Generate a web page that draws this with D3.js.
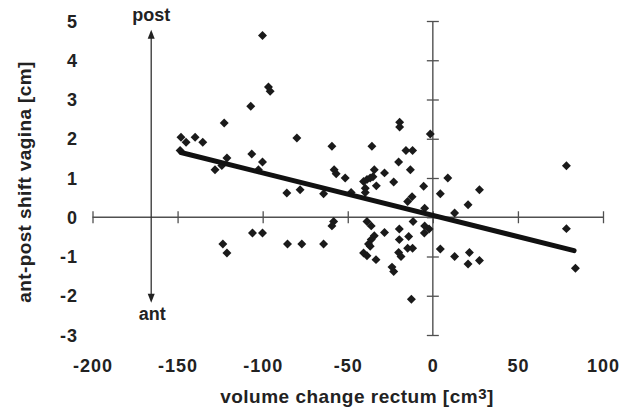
<!DOCTYPE html>
<html>
<head>
<meta charset="utf-8">
<script src="https://cdn.jsdelivr.net/npm/d3@7"></script>
<style>
  body { margin: 0; background: #fff; }
  text { font-family: "Liberation Sans", Arial, sans-serif; font-weight: bold; fill: #222; }
</style>
</head>
<body>
<svg width="632" height="409"></svg>
<script>
// volume change of rectum (cm3) vs ant-post shift of vagina (cm)
const volChange = [
  -100.1, -107, -122.6, -148, -145, -139.7, -135.2, -106.4, -121, -128,
  -148.5, -124, -100.1, -102.5, -85.8, -79.9, -78, -106, -100.1, -123.4,
  -121, -96.6, -95.6, -59.3, -35.8, -19.5, -19.5, -1.5, -58, -56.8,
  -51.5, -34.4, -28.4, -20.1, -15.8, -11.9, -13.2, 8.8, 78.5, -40.7,
  -38.7, -36.8, -35.2, -39.7, -39.7, -33.2, -23, -5.4, 4.4, -48,
  -64.2, -14.8, -12.2, -4.8, 12.8, -58.3, -59.3, -38.7, -36.2, -11.6,
  -19.7, -4.8, -2.2, -14.2, -19.7, -28.4, -5, -34.4, -36.2, -37.8,
  -36.8, -77, -64.2, -85.4, -40.7, -38.7, -20.1, -18.7, -14.8, -11.9,
  4.4, 12.8, -33.4, -24, -23, -12.6, 27.4, 20.7, 21.5, 20.7,
  27.4, 78.5, 83.8
];
const shift = [
  4.63, 2.83, 2.40, 2.04, 1.91, 2.04, 1.91, 1.61, 1.51, 1.21,
  1.70, 1.32, 1.41, 1.21, 0.62, 2.02, 0.70, -0.40, -0.40, -0.68,
  -0.91, 3.32, 3.21, 1.81, 1.81, 2.42, 2.30, 2.12, 1.21, 1.11,
  1.00, 1.21, 1.13, 1.41, 1.70, 1.70, 1.21, 1.00, 1.31, 0.91,
  0.96, 1.00, 1.03, 0.74, 0.63, 0.80, 0.90, 0.79, 0.60, 0.63,
  0.60, 0.40, 0.52, 0.23, 0.11, -0.11, -0.22, -0.11, -0.22, -0.11,
  -0.30, -0.22, -0.30, -0.49, -0.57, -0.39, -0.40, -0.47, -0.57, -0.68,
  -0.74, -0.68, -0.68, -0.68, -0.91, -0.98, -0.90, -1.00, -0.79, -0.79,
  -0.81, -1.00, -1.08, -1.27, -1.38, -2.09, 0.70, 0.32, -0.90, -1.19,
  -1.10, -0.29, -1.30
];

// regression line end points
const fitX = [-148, 83];
const fitY = [1.65, -0.85];

const xTicks = [-200, -150, -100, -50, 0, 50, 100];
const yTicks = [-3, -2, -1, 0, 1, 2, 3, 4, 5];

const svg = d3.select("svg");

const x = d3.scaleLinear().domain([-200, 100]).range([92.5, 603]);
const y = d3.scaleLinear().domain([-3, 5]).range([335, 21]);

const axisColor = "#505050";

// x axis through y = 0, ticks crossing the line
svg.append("line")
    .attr("x1", x(-200)).attr("x2", x(100))
    .attr("y1", y(0)).attr("y2", y(0))
    .attr("stroke", axisColor).attr("stroke-width", 1.4);

const gx = svg.append("g")
    .attr("transform", `translate(0,${y(0) - 6})`)
    .call(d3.axisBottom(x).tickValues(xTicks).tickSize(12).tickFormat(""));
gx.select(".domain").remove();
gx.selectAll(".tick line").attr("stroke", axisColor).attr("stroke-width", 1.3);

// y axis through x = 0
svg.append("line")
    .attr("x1", x(0)).attr("x2", x(0))
    .attr("y1", y(5)).attr("y2", y(-3))
    .attr("stroke", axisColor).attr("stroke-width", 1.4);

const gy = svg.append("g")
    .attr("transform", `translate(${x(0) + 6},0)`)
    .call(d3.axisLeft(y).tickValues(yTicks).tickSize(12).tickFormat(""));
gy.select(".domain").remove();
gy.selectAll(".tick line").attr("stroke", axisColor).attr("stroke-width", 1.3);

// tick labels on the outside
svg.append("g").selectAll("text")
    .data(xTicks)
  .join("text")
    .attr("x", d => x(d) + 0.5)
    .attr("y", 372)
    .attr("text-anchor", "middle")
    .style("font-size", "18px")
    .style("letter-spacing", "1px")
    .text(d => d);

svg.append("g").selectAll("text")
    .data(yTicks)
  .join("text")
    .attr("x", 78)
    .attr("y", d => y(d) + 6.5)
    .attr("text-anchor", "end")
    .style("font-size", "18px")
    .style("letter-spacing", "1px")
    .text(d => d);

// axis titles
const xt = svg.append("text")
    .attr("x", 357)
    .attr("y", 403)
    .attr("text-anchor", "middle")
    .style("font-size", "19px")
    .style("letter-spacing", "0.5px");
xt.append("tspan").text("volume change rectum [cm");
xt.append("tspan").attr("dy", -4).style("font-size", "15px").text("3");
xt.append("tspan").attr("dy", 4).text("]");

svg.append("text")
    .attr("transform", "translate(31,182) rotate(-90)")
    .attr("text-anchor", "middle")
    .style("font-size", "19px")
    .style("letter-spacing", "0.4px")
    .text("ant-post shift vagina [cm]");

// post / ant arrow
const ax = x(-165.5);
svg.append("line")
    .attr("x1", ax).attr("x2", ax)
    .attr("y1", y(4.7)).attr("y2", y(-2.1))
    .attr("stroke", "#333").attr("stroke-width", 1.3);
svg.append("path")
    .attr("d", `M${ax},${y(4.78)} l-3.5,9 l7,0 Z`)
    .attr("fill", "#222");
svg.append("path")
    .attr("d", `M${ax},${y(-2.18)} l-3.5,-9 l7,0 Z`)
    .attr("fill", "#222");
svg.append("text")
    .attr("x", ax).attr("y", 21)
    .attr("text-anchor", "middle")
    .style("font-size", "18px")
    .text("post");
svg.append("text")
    .attr("x", ax + 1).attr("y", 320)
    .attr("text-anchor", "middle")
    .style("font-size", "18px")
    .text("ant");

// points
const diamond = d3.symbol().type(d3.symbolSquare).size(40);
svg.append("g").selectAll("path")
    .data(d3.range(volChange.length))
  .join("path")
    .attr("d", diamond)
    .attr("transform", i => `translate(${x(volChange[i])},${y(shift[i])}) rotate(45)`)
    .attr("fill", "#1a1a1a");

// regression line
svg.append("line")
    .attr("x1", x(fitX[0])).attr("y1", y(fitY[0]))
    .attr("x2", x(fitX[1])).attr("y2", y(fitY[1]))
    .attr("stroke", "#111")
    .attr("stroke-width", 5)
    .attr("stroke-linecap", "round");
</script>
</body>
</html>
